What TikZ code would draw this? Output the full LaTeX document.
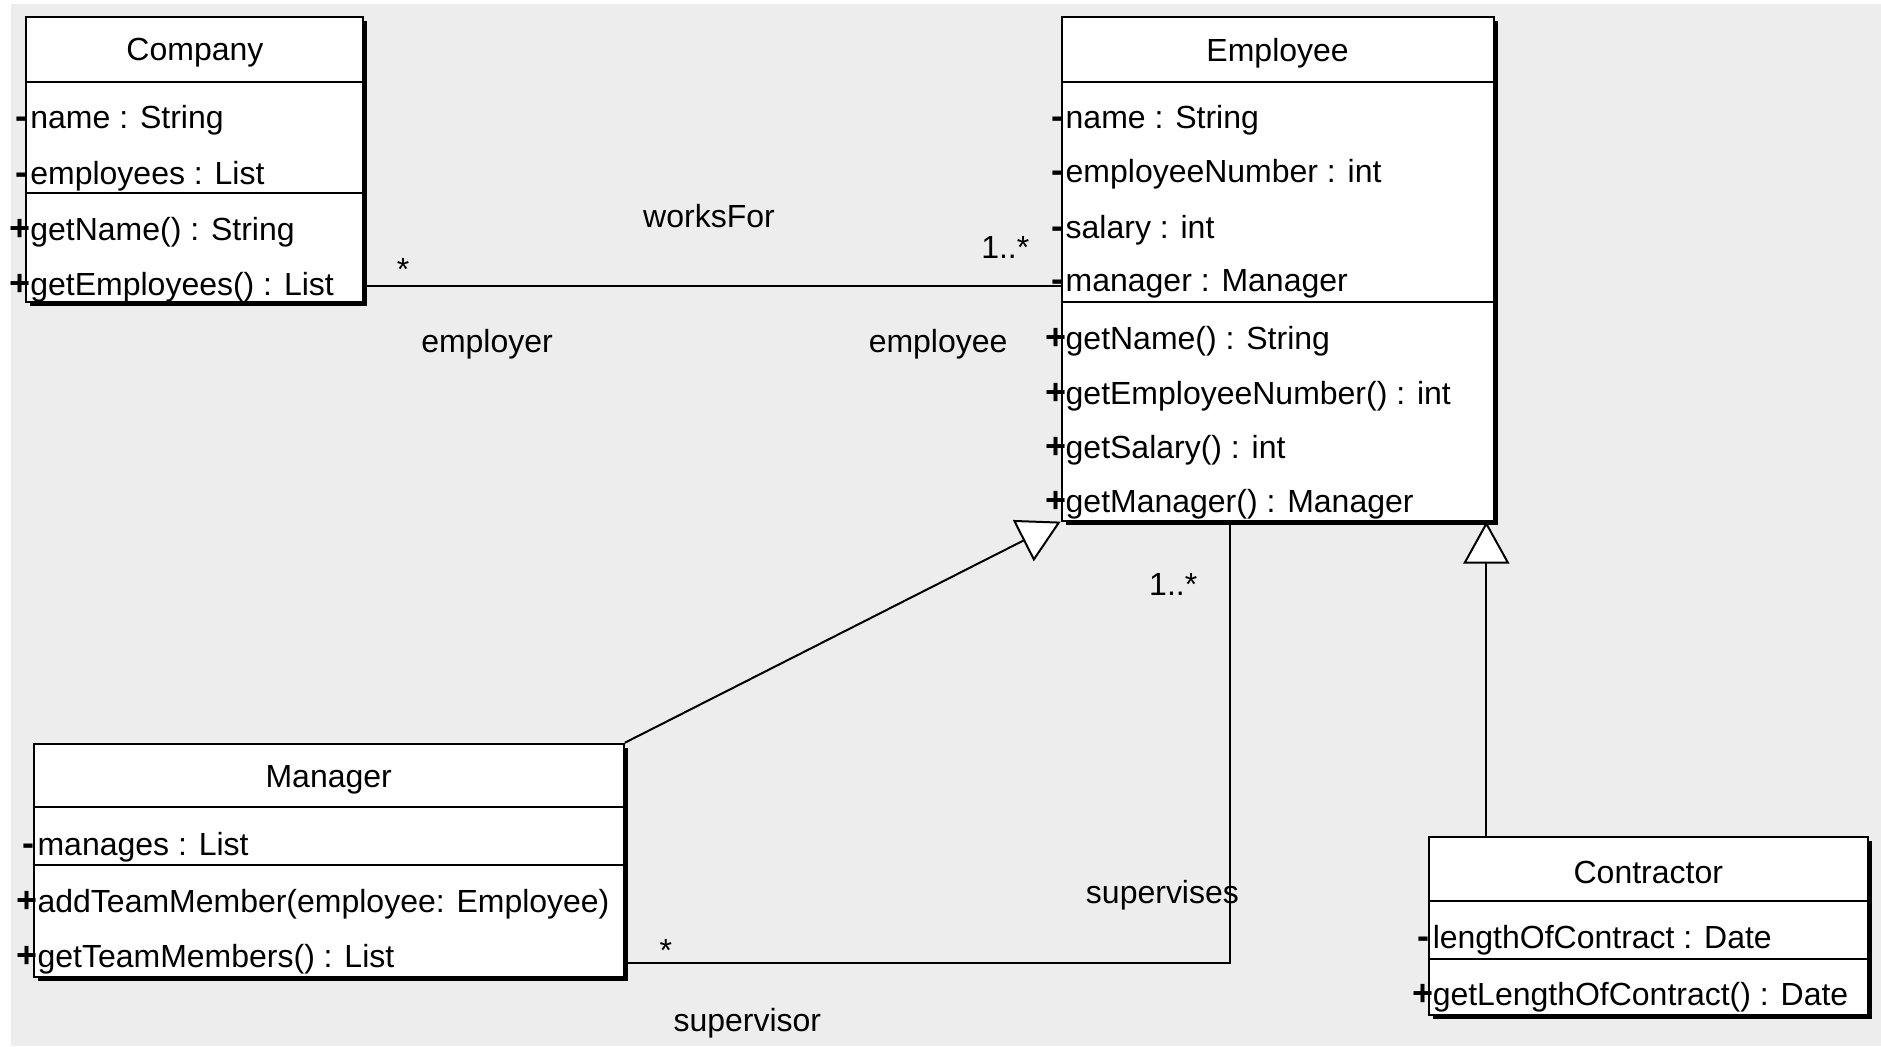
\documentclass[tikz,border=0pt]{standalone}
\usepackage{fontspec}
\setmainfont{Liberation Sans}
\usetikzlibrary{arrows.meta,fit,shadows}
\definecolor{canvas}{RGB}{237,237,237}
\begin{document}
\begin{tikzpicture}[x=0.6pt,y=-0.6pt,
  every node/.style={font=\fontsize{16}{19}\selectfont, inner sep=0pt, text=black},
  classbox/.style={draw=black, line width=1pt, fill=white, inner sep=0pt,
    drop shadow={shadow xshift=2pt, shadow yshift=-2pt, opacity=1, fill=black}},
  divider/.style={line width=1pt},
  member/.style={anchor=mid west, yshift=-3pt},
  vis/.style={anchor=mid east, yshift=-3pt, font=\fontsize{18}{20}\selectfont\bfseries},
  classname/.style={anchor=center, yshift=-1.2pt},
  link/.style={line width=1pt},
  gen/.style={line width=1pt,
    -{Triangle[length=21pt, width=23pt, fill=white, line width=1pt]}},
  role/.style={anchor=center, yshift=-1.2pt}
]
% canvas
\fill[white] (0,0) rectangle (1568,872);
\fill[canvas] (9,3) rectangle (1568,872);
\useasboundingbox (0,0) rectangle (1568,872);

% ---------- Company ----------
\node[classbox, fit={(22,14) (303,252)}] (company) {};
\draw[divider] (company.west |- 0,68) -- (company.east |- 0,68);
\draw[divider] (company.west |- 0,161) -- (company.east |- 0,161);
\node[classname] (company-title) at (162.5,42) {Company};
\node[vis] (company-v1) at (23,98) {-};
\node[member] (company-a1) at (25,98) {name : String};
\node[vis] (company-v2) at (23,144) {-};
\node[member] (company-a2) at (25,144) {employees : List};
\node[vis] (company-v3) at (26,191) {+};
\node[member] (company-m1) at (25,191) {getName() : String};
\node[vis] (company-v4) at (26,237) {+};
\node[member] (company-m2) at (25,237) {getEmployees() : List};

% ---------- Employee ----------
\node[classbox, fit={(885,14) (1245,434)}] (employee) {};
\draw[divider] (employee.west |- 0,68) -- (employee.east |- 0,68);
\draw[divider] (employee.west |- 0,252) -- (employee.east |- 0,252);
\node[classname] (employee-title) at (1065,42) {Employee};
\node[vis] (employee-v1) at (887,98) {-};
\node[member] (employee-a1) at (888,98) {name : String};
\node[vis] (employee-v2) at (887,143) {-};
\node[member] (employee-a2) at (888,143) {employeeNumber : int};
\node[vis] (employee-v3) at (887,189) {-};
\node[member] (employee-a3) at (888,189) {salary : int};
\node[vis] (employee-v4) at (887,234) {-};
\node[member] (employee-a4) at (888,234) {manager : Manager};
\node[vis] (employee-v5) at (889,282) {+};
\node[member] (employee-m1) at (888,282) {getName() : String};
\node[vis] (employee-v6) at (889,328) {+};
\node[member] (employee-m2) at (888,328) {getEmployeeNumber() : int};
\node[vis] (employee-v7) at (889,373) {+};
\node[member] (employee-m3) at (888,373) {getSalary() : int};
\node[vis] (employee-v8) at (889,418) {+};
\node[member] (employee-m4) at (888,418) {getManager() : Manager};

% ---------- Manager ----------
\node[classbox, fit={(28,620) (520,814)}] (manager) {};
\draw[divider] (manager.west |- 0,673) -- (manager.east |- 0,673);
\draw[divider] (manager.west |- 0,721) -- (manager.east |- 0,721);
\node[classname] (manager-title) at (274,648) {Manager};
\node[vis] (manager-v1) at (29,704) {-};
\node[member] (manager-a1) at (31,704) {manages : List};
\node[vis] (manager-v2) at (32,751) {+};
\node[member] (manager-m1) at (31,751) {addTeamMember(employee: Employee)};
\node[vis] (manager-v3) at (32,797) {+};
\node[member] (manager-m2) at (31,797) {getTeamMembers() : List};

% ---------- Contractor ----------
\node[classbox, fit={(1191,698) (1557,846)}] (contractor) {};
\draw[divider] (contractor.west |- 0,751) -- (contractor.east |- 0,751);
\draw[divider] (contractor.west |- 0,799) -- (contractor.east |- 0,799);
\node[classname] (contractor-title) at (1374,725) {Contractor};
\node[vis] (contractor-v1) at (1192,781) {-};
\node[member] (contractor-a1) at (1194,781) {lengthOfContract : Date};
\node[vis] (contractor-v2) at (1195,829) {+};
\node[member] (contractor-m1) at (1194,829) {getLengthOfContract() : Date};

% ---------- connectors ----------
\coordinate (worksy) at (0,238);
\draw[link] (company.east |- worksy) -- (employee.west |- worksy);

\draw[gen] (manager.north east) -- (employee.south west);

\coordinate (contrx) at (1239,0);
\draw[gen] (contractor.north -| contrx) -- (employee.south -| contrx);

\coordinate (supx) at (1025,0);
\coordinate (supy) at (0,803);
\draw[link] (manager.east |- supy) -| (employee.south -| supx);

% ---------- association labels ----------
\node[role] (lbl-worksfor) at (591,178) {worksFor};
\node[role] (lbl-employer-mult) at (336,223) {*};
\node[role] (lbl-employee-mult) at (838,204) {1..*};
\node[role] (lbl-employer) at (406,285) {employer};
\node[role] (lbl-employee) at (782,285) {employee};
\node[role] (lbl-supervised-mult) at (978,485) {1..*};
\node[role] (lbl-supervises) at (969,744) {supervises};
\node[role] (lbl-supervisor-mult) at (555,790) {*};
\node[role] (lbl-supervisor) at (623,851) {supervisor};
\end{tikzpicture}
\end{document}
